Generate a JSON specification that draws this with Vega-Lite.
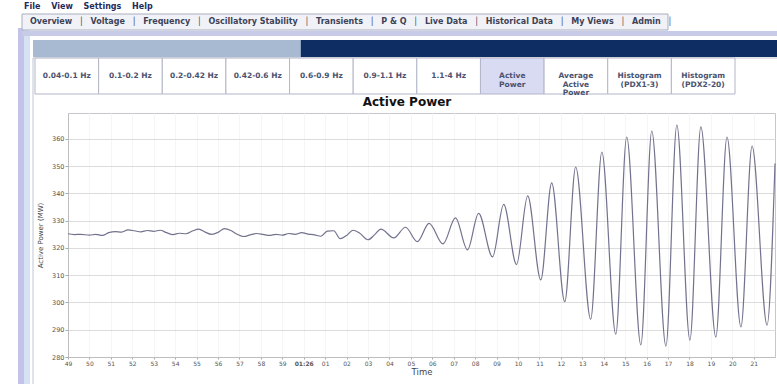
{
  "$schema": "https://vega.github.io/schema/vega-lite/v6.json",
  "width": 707,
  "height": 244,
  "autosize": {"type": "none"},
  "padding": {"left": 68, "top": 113, "right": 2, "bottom": 27},
  "background": "#ffffff",
  "config": {"font": "DejaVu Sans", "view": {"stroke": "#c6c6ce"}},
  "datasets": {
    "menu": [{"bar": "menu", "label": "File\u2002\u2002 View\u2002\u2002 Settings\u2002\u2002 Help"}],
    "tabs": [{"bar": "tabs", "label": "Overview\u00a0\u2002│\u2002\u00a0Voltage\u00a0\u2002│\u2002\u00a0Frequency\u00a0\u2002│\u2002\u00a0Oscillatory Stability\u00a0\u2002│\u2002\u00a0Transients\u00a0\u2002│\u2002\u00a0P & Q\u00a0\u2002│\u2002\u00a0Live Data\u00a0\u2002│\u2002\u00a0Historical Data\u00a0\u2002│\u2002\u00a0My Views\u00a0\u2002│\u2002\u00a0Admin\u00a0\u2002│"}],
    "strip": [{"bar": "strip"}],
    "frame": [
      {"bar": "frame", "part": "outer"},
      {"bar": "frame", "part": "inner"}
    ],
    "panel": [{"bar": "panel"}],
    "scroll": [
      {"bar": "scroll", "part": "track", "start": 0, "end": 1},
      {"bar": "scroll", "part": "thumb", "start": 0, "end": 0.36}
    ],
    "views": [
      {"bar": "views", "label": "0.04-0.1 Hz"},
      {"bar": "views", "label": "0.1-0.2 Hz"},
      {"bar": "views", "label": "0.2-0.42 Hz"},
      {"bar": "views", "label": "0.42-0.6 Hz"},
      {"bar": "views", "label": "0.6-0.9 Hz"},
      {"bar": "views", "label": "0.9-1.1 Hz"},
      {"bar": "views", "label": "1.1-4 Hz"},
      {"bar": "views", "label": "Active\nPower"},
      {"bar": "views", "label": "Average\nActive\nPower"},
      {"bar": "views", "label": "Histogram\n(PDX1-3)"},
      {"bar": "views", "label": "Histogram\n(PDX2-20)"}
    ],
    "heading": [{"bar": "heading", "label": "Active Power"}],
    "power": [
      {"time": "2013-06-01T01:25:49.000Z", "mw": 325.2},
      {"time": "2013-06-01T01:25:49.300Z", "mw": 324.9},
      {"time": "2013-06-01T01:25:49.600Z", "mw": 325.0},
      {"time": "2013-06-01T01:25:50.000Z", "mw": 324.7},
      {"time": "2013-06-01T01:25:50.300Z", "mw": 325.0},
      {"time": "2013-06-01T01:25:50.600Z", "mw": 324.6},
      {"time": "2013-06-01T01:25:50.900Z", "mw": 325.6},
      {"time": "2013-06-01T01:25:51.200Z", "mw": 326.0},
      {"time": "2013-06-01T01:25:51.500Z", "mw": 325.8},
      {"time": "2013-06-01T01:25:51.800Z", "mw": 326.6},
      {"time": "2013-06-01T01:25:52.100Z", "mw": 326.3},
      {"time": "2013-06-01T01:25:52.400Z", "mw": 325.9},
      {"time": "2013-06-01T01:25:52.700Z", "mw": 326.4},
      {"time": "2013-06-01T01:25:53.000Z", "mw": 326.1},
      {"time": "2013-06-01T01:25:53.300Z", "mw": 326.5},
      {"time": "2013-06-01T01:25:53.600Z", "mw": 325.6},
      {"time": "2013-06-01T01:25:53.900Z", "mw": 324.9},
      {"time": "2013-06-01T01:25:54.200Z", "mw": 325.4},
      {"time": "2013-06-01T01:25:54.500Z", "mw": 325.2},
      {"time": "2013-06-01T01:25:54.800Z", "mw": 326.2},
      {"time": "2013-06-01T01:25:55.100Z", "mw": 326.9},
      {"time": "2013-06-01T01:25:55.400Z", "mw": 325.8},
      {"time": "2013-06-01T01:25:55.700Z", "mw": 325.0},
      {"time": "2013-06-01T01:25:56.000Z", "mw": 325.7},
      {"time": "2013-06-01T01:25:56.300Z", "mw": 327.1},
      {"time": "2013-06-01T01:25:56.600Z", "mw": 326.4},
      {"time": "2013-06-01T01:25:56.900Z", "mw": 325.0},
      {"time": "2013-06-01T01:25:57.200Z", "mw": 324.2},
      {"time": "2013-06-01T01:25:57.500Z", "mw": 324.8},
      {"time": "2013-06-01T01:25:57.800Z", "mw": 325.3},
      {"time": "2013-06-01T01:25:58.100Z", "mw": 325.0},
      {"time": "2013-06-01T01:25:58.400Z", "mw": 324.6},
      {"time": "2013-06-01T01:25:58.700Z", "mw": 325.0},
      {"time": "2013-06-01T01:25:59.000Z", "mw": 324.7},
      {"time": "2013-06-01T01:25:59.300Z", "mw": 325.3},
      {"time": "2013-06-01T01:25:59.600Z", "mw": 325.0},
      {"time": "2013-06-01T01:25:59.900Z", "mw": 325.6},
      {"time": "2013-06-01T01:26:00.200Z", "mw": 325.1},
      {"time": "2013-06-01T01:26:00.500Z", "mw": 324.8},
      {"time": "2013-06-01T01:26:00.800Z", "mw": 324.3},
      {"time": "2013-06-01T01:26:01.100Z", "mw": 326.2},
      {"time": "2013-06-01T01:26:01.400Z", "mw": 326.3},
      {"time": "2013-06-01T01:26:01.700Z", "mw": 323.4},
      {"time": "2013-06-01T01:26:02.000Z", "mw": 324.6},
      {"time": "2013-06-01T01:26:02.300Z", "mw": 326.5},
      {"time": "2013-06-01T01:26:02.600Z", "mw": 325.5},
      {"time": "2013-06-01T01:26:03.000Z", "mw": 323.0},
      {"time": "2013-06-01T01:26:03.300Z", "mw": 324.8},
      {"time": "2013-06-01T01:26:03.600Z", "mw": 326.9},
      {"time": "2013-06-01T01:26:04.200Z", "mw": 323.7},
      {"time": "2013-06-01T01:26:04.750Z", "mw": 327.6},
      {"time": "2013-06-01T01:26:05.300Z", "mw": 322.3},
      {"time": "2013-06-01T01:26:05.850Z", "mw": 329.0},
      {"time": "2013-06-01T01:26:06.500Z", "mw": 321.5},
      {"time": "2013-06-01T01:26:07.080Z", "mw": 331.0},
      {"time": "2013-06-01T01:26:07.640Z", "mw": 319.3},
      {"time": "2013-06-01T01:26:08.160Z", "mw": 332.7},
      {"time": "2013-06-01T01:26:08.810Z", "mw": 316.7},
      {"time": "2013-06-01T01:26:09.330Z", "mw": 336.0},
      {"time": "2013-06-01T01:26:09.930Z", "mw": 313.9},
      {"time": "2013-06-01T01:26:10.450Z", "mw": 339.1},
      {"time": "2013-06-01T01:26:11.060Z", "mw": 308.3},
      {"time": "2013-06-01T01:26:11.570Z", "mw": 343.9},
      {"time": "2013-06-01T01:26:12.180Z", "mw": 300.3},
      {"time": "2013-06-01T01:26:12.690Z", "mw": 349.7},
      {"time": "2013-06-01T01:26:13.390Z", "mw": 293.9},
      {"time": "2013-06-01T01:26:13.910Z", "mw": 355.2},
      {"time": "2013-06-01T01:26:14.560Z", "mw": 288.4},
      {"time": "2013-06-01T01:26:15.070Z", "mw": 360.7},
      {"time": "2013-06-01T01:26:15.730Z", "mw": 284.4},
      {"time": "2013-06-01T01:26:16.240Z", "mw": 362.9},
      {"time": "2013-06-01T01:26:16.900Z", "mw": 284.0},
      {"time": "2013-06-01T01:26:17.410Z", "mw": 365.1},
      {"time": "2013-06-01T01:26:18.020Z", "mw": 286.2},
      {"time": "2013-06-01T01:26:18.530Z", "mw": 364.4},
      {"time": "2013-06-01T01:26:19.230Z", "mw": 287.3},
      {"time": "2013-06-01T01:26:19.750Z", "mw": 360.7},
      {"time": "2013-06-01T01:26:20.400Z", "mw": 291.0},
      {"time": "2013-06-01T01:26:20.920Z", "mw": 357.4},
      {"time": "2013-06-01T01:26:21.620Z", "mw": 291.7},
      {"time": "2013-06-01T01:26:21.990Z", "mw": 351.0}
    ]
  },
  "layer": [
    {
      "data": {"name": "frame"},
      "mark": {"type": "rect"},
      "encoding": {
        "x": {"field": "part", "type": "nominal", "sort": null, "scale": {"range": [-50, -38], "paddingInner": 0, "paddingOuter": 0}, "axis": null},
        "y": {"field": "bar", "type": "nominal", "scale": {"range": [-85, 271], "paddingInner": 0, "paddingOuter": 0}, "axis": null},
        "fill": {"condition": {"test": "datum.part === 'outer'", "value": "#c3c3ea"}, "value": "#d6e2f4"}
      }
    },
    {
      "data": {"name": "panel"},
      "mark": {"type": "rect", "filled": false, "stroke": "#c2c6d4", "strokeWidth": 1},
      "encoding": {
        "x": {"field": "bar", "type": "nominal", "scale": {"range": [-35, 712], "paddingInner": 0, "paddingOuter": 0}, "axis": null},
        "y": {"field": "bar", "type": "nominal", "scale": {"range": [-55, 274], "paddingInner": 0, "paddingOuter": 0}, "axis": null}
      }
    },
    {
      "data": {"name": "menu"},
      "mark": {"type": "text", "align": "left", "baseline": "middle", "fontSize": 8, "fontWeight": "bold", "color": "#1f2b5c"},
      "encoding": {
        "x": {"field": "bar", "type": "nominal", "scale": {"range": [-54, -34], "paddingInner": 0, "paddingOuter": 0}, "axis": null},
        "y": {"field": "bar", "type": "nominal", "scale": {"range": [-113, -99], "paddingInner": 0, "paddingOuter": 0}, "axis": null},
        "text": {"field": "label"}
      }
    },
    {
      "data": {"name": "tabs"},
      "mark": {"type": "rect", "fill": "#f1f2f7", "stroke": "#a9adc0", "strokeWidth": 1},
      "encoding": {
        "x": {"field": "bar", "type": "nominal", "scale": {"range": [-46, 600], "paddingInner": 0, "paddingOuter": 0}, "axis": null},
        "y": {"field": "bar", "type": "nominal", "scale": {"range": [-99, -83], "paddingInner": 0, "paddingOuter": 0}, "axis": null}
      }
    },
    {
      "data": {"name": "tabs"},
      "mark": {"type": "text", "align": "left", "baseline": "middle", "fontSize": 8, "fontWeight": "bold", "color": "#3d4258"},
      "encoding": {
        "x": {"field": "bar", "type": "nominal", "scale": {"range": [-48, -28], "paddingInner": 0, "paddingOuter": 0}, "axis": null},
        "y": {"field": "bar", "type": "nominal", "scale": {"range": [-99, -83], "paddingInner": 0, "paddingOuter": 0}, "axis": null},
        "text": {"field": "label"}
      }
    },
    {
      "data": {"name": "strip"},
      "mark": {"type": "rect", "fill": "#c7cbe8"},
      "encoding": {
        "x": {"field": "bar", "type": "nominal", "scale": {"range": [-46, 709], "paddingInner": 0, "paddingOuter": 0}, "axis": null},
        "y": {"field": "bar", "type": "nominal", "scale": {"range": [-82, -77], "paddingInner": 0, "paddingOuter": 0}, "axis": null}
      }
    },
    {
      "data": {"name": "scroll"},
      "mark": {"type": "rect"},
      "encoding": {
        "x": {"field": "start", "type": "quantitative", "scale": {"domain": [0, 1], "range": [-35, 709]}, "axis": null},
        "x2": {"field": "end"},
        "y": {"field": "bar", "type": "nominal", "scale": {"range": [-73, -56], "paddingInner": 0, "paddingOuter": 0}, "axis": null},
        "fill": {"condition": {"test": "datum.part === 'thumb'", "value": "#a8b9d2"}, "value": "#0e2d62"}
      }
    },
    {
      "data": {"name": "views"},
      "mark": {"type": "rect", "stroke": "#b2b6c8", "strokeWidth": 1},
      "encoding": {
        "x": {"field": "label", "type": "nominal", "sort": null, "scale": {"range": [-33, 667], "paddingInner": 0, "paddingOuter": 0}, "axis": null},
        "y": {"field": "bar", "type": "nominal", "scale": {"range": [-55, -19], "paddingInner": 0, "paddingOuter": 0}, "axis": null},
        "fill": {"condition": {"test": "indexof(datum.label, 'Active') === 0", "value": "#d9dbf3"}, "value": "#ffffff"}
      }
    },
    {
      "data": {"name": "views"},
      "mark": {"type": "text", "baseline": "middle", "lineBreak": "\n", "lineHeight": 8.5, "fontSize": 7.5, "fontWeight": "bold", "color": "#4b5270"},
      "encoding": {
        "x": {"field": "label", "type": "nominal", "sort": null, "scale": {"range": [-33, 667], "paddingInner": 0, "paddingOuter": 0}, "axis": null},
        "y": {"field": "bar", "type": "nominal", "scale": {"range": [-55, -19], "paddingInner": 0, "paddingOuter": 0}, "axis": null},
        "text": {"field": "label"}
      }
    },
    {
      "data": {"name": "heading"},
      "mark": {"type": "text", "baseline": "middle", "fontSize": 12, "fontWeight": "bold", "color": "#111111"},
      "encoding": {
        "x": {"field": "bar", "type": "nominal", "scale": {"range": [-33, 711], "paddingInner": 0, "paddingOuter": 0}, "axis": null},
        "y": {"field": "bar", "type": "nominal", "scale": {"range": [-20, -2], "paddingInner": 0, "paddingOuter": 0}, "axis": null},
        "text": {"field": "label"}
      }
    },
    {
      "data": {"name": "power"},
      "mark": {"type": "line", "interpolate": "monotone", "color": "#72728e", "strokeWidth": 1.2},
      "encoding": {
        "x": {
          "field": "time",
          "type": "temporal",
          "title": "Time",
          "scale": {"type": "utc", "nice": false, "domain": [1370049949000, 1370049981990]},
          "axis": {
            "tickCount": 33,
            "labelExpr": "utcseconds(datum.value) == 0 ? utcFormat(datum.value, '%H:%M') : utcFormat(datum.value, '%S')",
            "labelFontWeight": {"condition": {"test": "utcseconds(datum.value) == 0", "value": "bold"}, "value": "normal"},
            "labelFontSize": 6,
            "labelColor": "#555555",
            "labelPadding": 1,
            "labelOverlap": false,
            "labelFlush": false,
            "tickSize": 2,
            "tickColor": "#aaaaaa",
            "domainColor": "#bdbdbd",
            "grid": true,
            "gridColor": "#f5f5f5",
            "titleFontSize": 8.5,
            "titleFontWeight": "normal",
            "titleColor": "#444444",
            "titlePadding": 1
          }
        },
        "y": {
          "field": "mw",
          "type": "quantitative",
          "title": "Active Power (MW)",
          "scale": {"domain": [280, 369.5], "nice": false, "zero": false},
          "axis": {
            "values": [280, 290, 300, 310, 320, 330, 340, 350, 360],
            "labelFontSize": 6.5,
            "labelColor": "#555555",
            "labelPadding": 1,
            "tickSize": 3,
            "tickColor": "#aaaaaa",
            "domainColor": "#bdbdbd",
            "grid": true,
            "gridColor": "#dcdcdc",
            "titleFontSize": 7,
            "titleFontWeight": "normal",
            "titleColor": "#444444",
            "titlePadding": 8
          }
        }
      }
    }
  ],
  "resolve": {"scale": {"x": "independent", "y": "independent"}}
}
